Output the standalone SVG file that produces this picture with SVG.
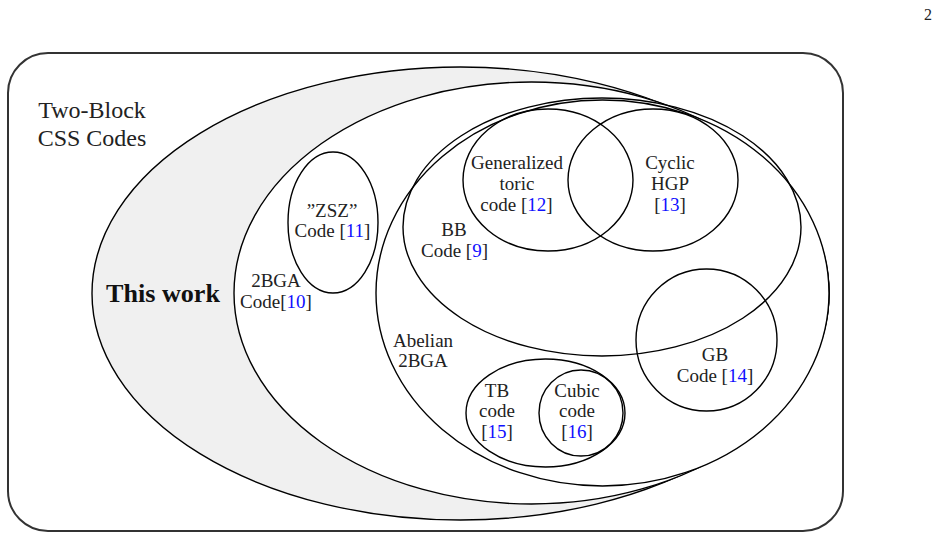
<svg xmlns="http://www.w3.org/2000/svg" width="939" height="539" viewBox="0 0 939 539">
<style>
.e{fill:none;stroke:#000;stroke-width:1.4}
.t{font-family:"Liberation Serif","Times New Roman",serif;font-size:19px;fill:#222;text-anchor:middle}
.big{font-size:24px}
.b{font-weight:bold;font-size:25px;fill:#111}
.c{fill:#1010ff}
</style>
<rect width="939" height="539" fill="#fff"/>
<text class="t" x="928" y="20" style="font-size:16px">2</text>
<g id="frame">
<rect x="8" y="53" width="835" height="478" rx="40" ry="40" fill="#fff" stroke="#333" stroke-width="2"/>
<text class="t big" x="92" y="118">Two-Block</text>
<text class="t big" x="92" y="146">CSS Codes</text>
</g>
<g id="thiswork">
<ellipse cx="460.5" cy="293.5" rx="368.5" ry="226.5" fill="#f0f0f0" stroke="#000" stroke-width="1.4"/>
<text class="t b" x="163" y="302" textLength="114" lengthAdjust="spacingAndGlyphs">This work</text>
</g>
<g id="twobga">
<ellipse cx="531.5" cy="293" rx="297.5" ry="211" fill="#fff" stroke="#000" stroke-width="1.4"/>
<text class="t" x="276" y="287">2BGA</text>
<text class="t" x="276" y="308">Code[<tspan class="c">10</tspan>]</text>
</g>
<g id="abelian">
<ellipse cx="602.5" cy="293" rx="226.5" ry="193" fill="#fff" stroke="#000" stroke-width="1.4"/>
<text class="t" x="423" y="347">Abelian</text>
<text class="t" x="423" y="367">2BGA</text>
</g>
<g id="zsz">
<ellipse class="e" cx="333" cy="222.5" rx="45" ry="70.5"/>
<text class="t" x="332" y="217">”ZSZ”</text>
<text class="t" x="332.5" y="237">Code [<tspan class="c">11</tspan>]</text>
</g>
<g id="bb">
<ellipse class="e" cx="602" cy="227" rx="199" ry="129"/>
<text class="t" x="454" y="236">BB</text>
<text class="t" x="454.5" y="257">Code [<tspan class="c">9</tspan>]</text>
</g>
<g id="gtoric">
<ellipse class="e" cx="548" cy="180" rx="85" ry="71"/>
<text class="t" x="517" y="169">Generalized</text>
<text class="t" x="517" y="190">toric</text>
<text class="t" x="516.5" y="211">code [<tspan class="c">12</tspan>]</text>
</g>
<g id="chgp">
<ellipse class="e" cx="653" cy="180" rx="85" ry="71"/>
<text class="t" x="670" y="169">Cyclic</text>
<text class="t" x="670" y="190">HGP</text>
<text class="t" x="670" y="211">[<tspan class="c">13</tspan>]</text>
</g>
<g id="gb">
<ellipse class="e" cx="706.5" cy="340" rx="70.5" ry="71"/>
<text class="t" x="715" y="361">GB</text>
<text class="t" x="715" y="382">Code [<tspan class="c">14</tspan>]</text>
</g>
<g id="tb">
<ellipse class="e" cx="545.5" cy="413" rx="79.5" ry="54"/>
<text class="t" x="497" y="397">TB</text>
<text class="t" x="497" y="417">code</text>
<text class="t" x="497" y="438">[<tspan class="c">15</tspan>]</text>
</g>
<g id="cubic">
<ellipse class="e" cx="581" cy="413" rx="42" ry="43"/>
<text class="t" x="577" y="397">Cubic</text>
<text class="t" x="577" y="417">code</text>
<text class="t" x="577" y="438">[<tspan class="c">16</tspan>]</text>
</g>
<g id="connectors"/>
</svg>
